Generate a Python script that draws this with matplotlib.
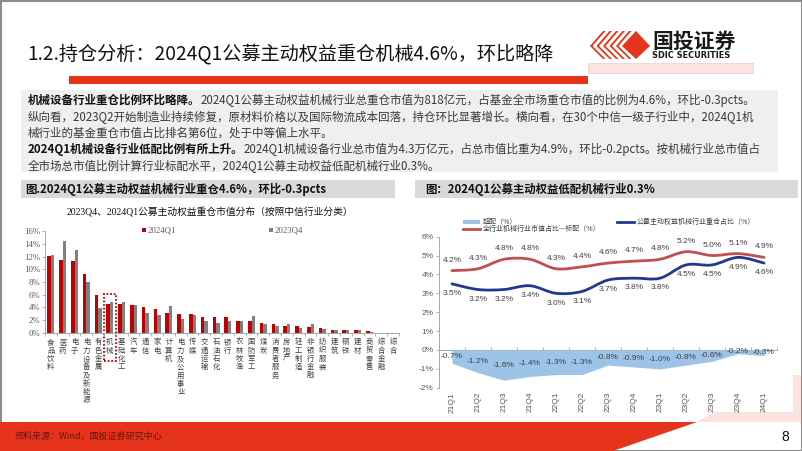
import numpy as np
import matplotlib
matplotlib.use("Agg")
import matplotlib.pyplot as plt
from matplotlib.patches import Polygon, Rectangle, PathPatch
from matplotlib.path import Path
from matplotlib.lines import Line2D

plt.rcParams['font.family'] = ['Noto Sans CJK SC', 'DejaVu Sans']

# ---------------- data ----------------
industries = ['食品饮料', '医药', '电子', '电力设备及新能源', '有色金属', '机械', '基础化工', '汽车',
              '通信', '家电', '计算机', '电力及公用事业', '传媒', '交通运输', '石油石化', '银行',
              '农林牧渔', '国防军工', '煤炭', '消费者服务', '房地产', '轻工制造', '非银行金融',
              '纺织服装', '建筑', '钢铁', '建材', '商贸零售', '综合金融', '综合']
share_2024q1 = [12.1, 11.5, 11.3, 9.2, 5.9, 4.6, 4.5, 4.4, 4.1, 3.7, 3.1, 3.0, 2.9, 2.5, 2.4, 2.4,
                1.9, 1.9, 1.5, 1.3, 1.1, 1.0, 0.9, 0.7, 0.5, 0.45, 0.4, 0.25, 0.03, 0.02]
share_2023q4 = [12.2, 14.4, 13.1, 8.0, 3.9, 4.9, 4.9, 4.3, 3.1, 2.8, 4.2, 2.1, 2.8, 1.9, 1.6, 1.9,
                1.9, 2.6, 1.3, 1.1, 1.4, 0.7, 1.3, 0.6, 0.5, 0.4, 0.4, 0.15, 0.03, 0.02]
left_yticks = [0, 2, 4, 6, 8, 10, 12, 14, 16]

quarters = ['21Q1', '21Q2', '21Q3', '21Q4', '22Q1', '22Q2', '22Q3', '22Q4',
            '23Q1', '23Q2', '23Q3', '23Q4', '24Q1']
fund_weight = [3.5, 3.2, 3.2, 3.4, 3.0, 3.1, 3.7, 3.8, 3.8, 4.5, 4.5, 4.9, 4.6]
benchmark = [4.2, 4.3, 4.8, 4.8, 4.3, 4.4, 4.6, 4.7, 4.8, 5.2, 5.0, 5.1, 4.9]
overweight = [-0.7, -1.2, -1.6, -1.4, -1.3, -1.3, -0.8, -0.9, -1.0, -0.8, -0.6, -0.2, -0.3]
right_yticks = [-2, -1, 0, 1, 2, 3, 4, 5, 6]

# ---------------- figure ----------------
W, H = 802, 451
fig = plt.figure(figsize=(W / 100, H / 100), dpi=100)
bg = fig.add_axes([0, 0, 1, 1])
bg.set_xlim(0, W)
bg.set_ylim(H, 0)
bg.axis('off')

RED = '#E5341B'
PINK = '#FBE4E0'

# slide border
bg.add_patch(Rectangle((0.5, 0.5), W - 1, H - 1, fill=False, ec='#8c8c8c', lw=1.5))

# title
bg.text(27, 54, '1.2.持仓分析：2024Q1公募主动权益重仓机械4.6%，环比略降', fontsize=13.8,
        color='#111111', va='center', ha='left')
bg.add_patch(Rectangle((69, 76), 519, 7.5, color=RED, lw=0))
bg.add_patch(Rectangle((588, 63), 165, 9.5, fc=PINK, ec='#f3d0cb', lw=0.6))

# logo
for k in range(5):
    x0 = 590 + k * 6.5
    bg.add_patch(Polygon([(x0, 46), (x0 + 13, 31), (x0 + 15.5, 31), (x0 + 2.5, 46),
                          (x0 + 15.5, 59), (x0 + 13, 59)], closed=True, color='#E5341B', lw=0))
bg.add_patch(Polygon([(622, 46), (636, 31), (650, 46), (636, 59)], closed=True, color=RED, lw=0))
bg.text(652, 41, '国投证券', fontsize=15, fontweight='bold', color='#1a1a1a', va='center', ha='left')
bg.text(652, 55, 'SDIC SECURITIES', fontsize=6.6, fontweight='bold', color='#1a1a1a',
        va='center', ha='left', family=['DejaVu Sans'], stretch='condensed')

# text box
bg.add_patch(Rectangle((21, 90), 757, 82, color='#EFEFEF', lw=0))
body_lines = [
    [('机械设备行业重仓比例环比略降。', True),
     ('2024Q1公募主动权益机械行业总重仓市值为818亿元，占基金全市场重仓市值的比例为4.6%，环比-0.3pcts。', False)],
    [('纵向看，2023Q2开始制造业持续修复，原材料价格以及国际物流成本回落，持仓环比显著增长。横向看，在30个中信一级子行业中，2024Q1机', False)],
    [('械行业的基金重仓市值占比排名第6位，处于中等偏上水平。', False)],
    [('2024Q1机械设备行业低配比例有所上升。', True),
     ('2024Q1机械设备行业总市值为4.3万亿元，占总市值比重为4.9%，环比-0.2pcts。按机械行业总市值占', False)],
    [('全市场总市值比例计算行业标配水平，2024Q1公募主动权益低配机械行业0.3%。', False)],
]
ys = [101, 117, 133.5, 150, 166]
for y, segs in zip(ys, body_lines):
    prev = None
    for txt, bold in segs:
        kw = dict(fontsize=8.3, fontweight='bold' if bold else 'normal',
                  color='#111111' if bold else '#3a3a3a', va='center', ha='left')
        if prev is None:
            prev = bg.text(28, y, txt, **kw)
        else:
            kw['va'] = 'bottom'
            prev.set_va('bottom')
            prev.set_y(y + 6)
            prev = bg.annotate(txt, xy=(1, 0), xycoords=prev, **kw)

# chart title boxes
bg.add_patch(Rectangle((21, 180), 374, 18, color='#D9D9D9', lw=0))
bg.add_patch(Rectangle((415, 180), 383, 18, color='#D9D9D9', lw=0))
bg.text(25, 189.5, '图.2024Q1公募主动权益机械行业重仓4.6%，环比-0.3pcts', fontsize=8.2,
        fontweight='bold', color='#111111', va='center', ha='left')
bg.text(425, 189.5, '图：2024Q1公募主动权益低配机械行业0.3%', fontsize=8.2,
        fontweight='bold', color='#111111', va='center', ha='left')

# left chart subtitle & legend
bg.text(210, 212, '2023Q4、2024Q1公募主动权益重仓市值分布（按照中信行业分类）', fontsize=7,
        color='#111111', va='center', ha='center', family=['Liberation Serif', 'Noto Sans CJK SC'])
bg.add_patch(Rectangle((142, 228), 4, 4, color='#C00000', lw=0))
bg.text(147.5, 230, '2024Q1', fontsize=6.3, color='#595959', va='center', ha='left',
        family=['Liberation Serif'])
bg.add_patch(Rectangle((269, 228), 4, 4, color='#808080', lw=0))
bg.text(274.5, 230, '2023Q4', fontsize=6.3, color='#595959', va='center', ha='left',
        family=['Liberation Serif'])

# footer
bg.add_patch(Polygon([(0, 422), (697, 422), (613, 451), (0, 451)], closed=True, color=RED, lw=0))
bg.add_patch(Polygon([(697, 422), (713, 412), (793, 412), (793, 375), (801, 375), (801, 422)],
                     closed=True, color=PINK, lw=0))
bg.text(15, 436, '资料来源：Wind，国投证券研究中心', fontsize=6.5, style='italic',
        color='#6b1408', va='center', ha='left')
bg.text(785, 437, '8', fontsize=10, color='#111111', va='center', ha='center',
        family=['Liberation Sans'])


def px_axes(x0, y0, x1, y1):
    return fig.add_axes([x0 / W, 1 - y1 / H, (x1 - x0) / W, (y1 - y0) / H])


# ---------------- left chart ----------------
axL = px_axes(45, 231.3, 399, 332.7)
axL.patch.set_alpha(0)
n = len(industries)
xs = np.arange(n)
axL.bar(xs - 0.15, share_2024q1, width=0.3, color='#C00000', lw=0)
axL.bar(xs + 0.15, share_2023q4, width=0.3, color='#808080', lw=0)
axL.set_xlim(-0.5, n - 0.5)
axL.set_ylim(0, 16)
axL.set_yticks(left_yticks)
axL.set_yticklabels([f'{v}%' for v in left_yticks], family=['Liberation Serif'], fontsize=6.3,
                    color='#595959')
axL.tick_params(axis='y', length=2, width=0.6, color='#a6a6a6', pad=1.5)
for s in ['top', 'right']:
    axL.spines[s].set_visible(False)
for s in ['left', 'bottom']:
    axL.spines[s].set_color('#a6a6a6')
    axL.spines[s].set_linewidth(0.7)
axL.set_xticks(xs)
axL.set_xticklabels(['\n'.join(c) for c in industries], fontsize=5.3, color='#404040',
                    va='top', linespacing=1.05)
axL.set_xticks(np.arange(-0.5, n, 1), minor=True)
axL.tick_params(axis='x', which='major', length=0, pad=4)
axL.tick_params(axis='x', which='minor', length=2, width=0.6, color='#a6a6a6')
# highlight box around 机械
k = industries.index('机械')
hl = Rectangle((k - 0.48, -4.5), 0.96, 10.6, fill=False, ec='#C00000', lw=1.3,
               ls=(0, (1, 1)), clip_on=False, transform=axL.transData)
axL.add_patch(hl)

# ---------------- right chart ----------------
axR = px_axes(439, 236.6, 777, 387.8)
axR.patch.set_alpha(0)
m = len(quarters)
qx = np.arange(m)
axR.set_xlim(-0.5, m - 0.5)
axR.set_ylim(-2, 6)
axR.fill_between(qx, overweight, 0, color='#9DC3E6', lw=0, zorder=1)


def smooth_path(x, y):
    pts = np.column_stack([x, y]).astype(float)
    verts = [pts[0]]
    codes = [Path.MOVETO]
    for i in range(len(pts) - 1):
        p0 = pts[i - 1] if i > 0 else pts[i]
        p1 = pts[i]
        p2 = pts[i + 1]
        p3 = pts[i + 2] if i + 2 < len(pts) else pts[i + 1]
        c1 = p1 + (p2 - p0) / 6.0
        c2 = p2 - (p3 - p1) / 6.0
        verts += [c1, c2, p2]
        codes += [Path.CURVE4] * 3
    return Path(verts, codes)


axR.add_patch(PathPatch(smooth_path(qx, benchmark), fill=False, ec='#C0504D', lw=2, zorder=3,
                        capstyle='round'))
axR.add_patch(PathPatch(smooth_path(qx, fund_weight), fill=False, ec='#1F3A8C', lw=2, zorder=3,
                        capstyle='round'))

lab_kw = dict(fontsize=6, color='#404040', ha='center', va='center',
              family=['Liberation Sans'], textcoords='offset points')
for i in range(m):
    axR.annotate(f'{benchmark[i]:.1f}%', (i, benchmark[i]), xytext=(0, 7.5), **lab_kw)
    axR.annotate(f'{fund_weight[i]:.1f}%', (i, fund_weight[i]), xytext=(0, -7), **lab_kw)
    axR.annotate(f'{overweight[i]:.1f}%', (i, overweight[i] / 2), xytext=(0, 0), **lab_kw)

axR.set_yticks(right_yticks)
axR.set_yticklabels([f'{v}%' for v in right_yticks], fontsize=6, color='#595959',
                    family=['Liberation Sans'])
axR.tick_params(axis='y', length=2, width=0.6, color='#a6a6a6', pad=2)
for s in ['top', 'right', 'bottom']:
    axR.spines[s].set_visible(False)
axR.spines['left'].set_color('#a6a6a6')
axR.spines['left'].set_linewidth(0.7)
axR.set_xticks(qx)
axR.set_xticklabels(quarters, rotation=90, fontsize=6, color='#595959',
                    family=['Liberation Sans'])
axR.tick_params(axis='x', length=0, pad=3)
sec = axR.secondary_xaxis(0.25)
sec.set_xticks(np.arange(-0.5, m, 1))
sec.set_xticklabels([])
sec.tick_params(length=2, width=0.6, color='#a6a6a6', direction='in')
sec.spines['bottom'].set_color('#a6a6a6')
sec.spines['bottom'].set_linewidth(0.7)

# right legend
bg.add_patch(Rectangle((463, 220), 17, 3.5, color='#9DC3E6', lw=0))
bg.add_line(Line2D([463, 480], [228.5, 228.5], color='#C0504D', lw=2))
bg.add_line(Line2D([617, 634], [222, 222], color='#1F3A8C', lw=2))
leg_kw = dict(fontsize=5, color='#404040', va='center', ha='left')
bg.text(483, 221.5, '超配（%）', **leg_kw)
bg.text(483, 228.5, '全行业机械行业市值占比—标配（%）', **leg_kw)
bg.text(637, 222, '公募主动权益机械行业重仓占比（%）', **leg_kw)

fig.savefig('out.png', dpi=100)
